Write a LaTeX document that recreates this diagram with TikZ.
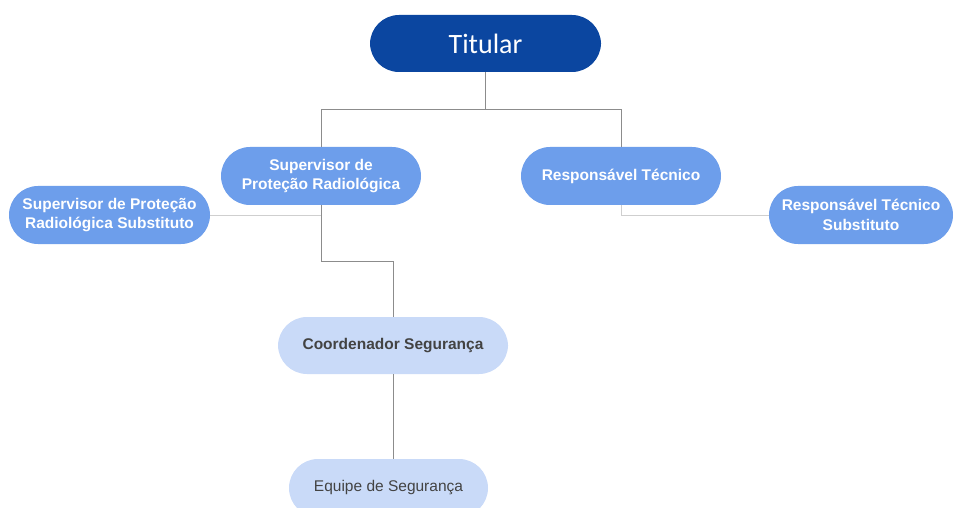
\documentclass[tikz,border=0pt]{standalone}
\usepackage{fontspec}
\setmainfont{Liberation Sans}
\newfontfamily\titfont{Carlito}
\usetikzlibrary{positioning}
\definecolor{titblue}{HTML}{0B46A0}
\definecolor{midblue}{HTML}{6D9EEB}
\definecolor{paleblue}{HTML}{C9DAF8}
\definecolor{darktxt}{HTML}{434343}
\definecolor{linegray}{HTML}{8C8C8C}
\definecolor{lightline}{HTML}{CFCFCF}

\begin{document}
\begin{tikzpicture}[x=1pt, y=-1pt]
\tikzstyle{every node} = [rectangle, rounded corners=29pt, inner sep=0pt, minimum height=58pt, align=center, font=\fontsize{15.5}{19.5}\selectfont\bfseries]
\tikzstyle{lead} = [fill=midblue, text=white, minimum width=200pt]
\tikzstyle{pale} = [fill=paleblue, text=darktxt]
\tikzstyle{conn} = [draw=linegray, line width=0.9pt]
\tikzstyle{side} = [draw=lightline, line width=0.9pt]
\useasboundingbox (0,0) rectangle (954,508);
\clip (0,0) rectangle (954,508);
\node[fill=titblue, text=white, minimum width=231pt, minimum height=57pt, font=\titfont\fontsize{28}{30}\selectfont] (tit) at (485.5,43.5) {Titular};
\node[lead] (sup) at (321,176) {Supervisor de\\Proteção Radiológica};
\node[lead] (resp) at (621,176) {Responsável Técnico};
\node[lead, minimum width=201pt] (supsub) at (109.5,215) {Supervisor de Proteção\\Radiológica Substituto};
\node[lead, minimum width=184pt] (respsub) at (861,215) {Responsável Técnico\\Substituto};
\node[pale, minimum width=230pt, minimum height=57pt] (coord) at (393,345.5) {Coordenador Segurança};
\node[pale, minimum width=199pt, font=\fontsize{15.5}{19.5}\selectfont] (equipe) at (388.5,488) {Equipe de Segurança};
\draw[conn] (tit.south) -- ++(0,37) -| (sup.north);
\draw[conn] (tit.south) -- ++(0,37) -| (resp.north);
\draw[side] (supsub.east) -- (supsub.east -| sup.south);
\draw[conn] (sup.south) -- ++(0,56) -| (coord.north);
\draw[side] (resp.south) |- (respsub.west);
\draw[conn] (coord.south) -- (coord.south |- equipe.north);
\end{tikzpicture}
\end{document}
